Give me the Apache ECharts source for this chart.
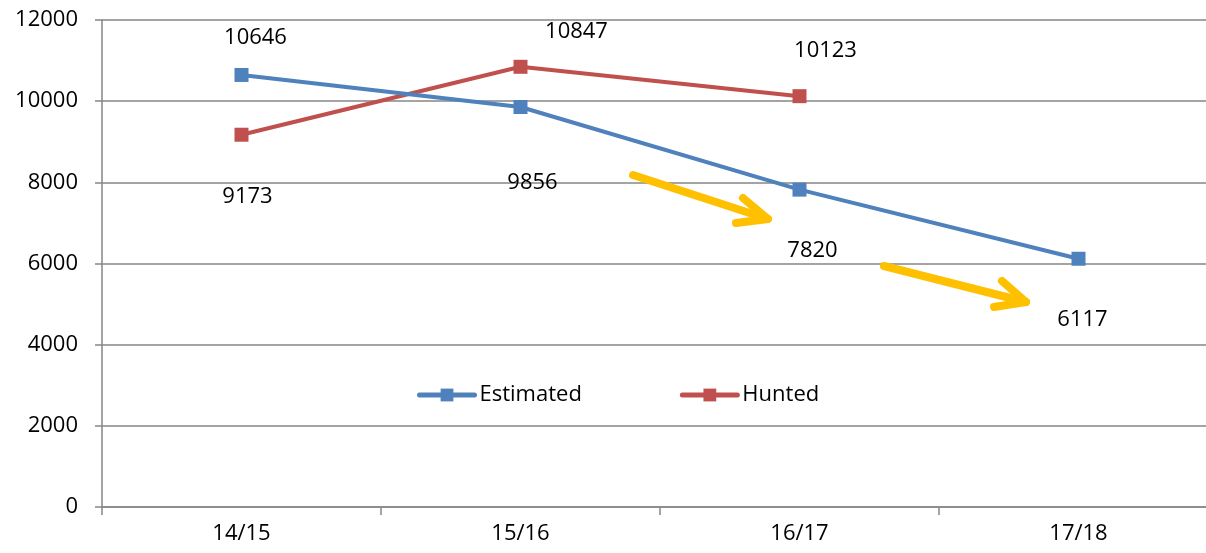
<!DOCTYPE html>
<html>
<head>
<meta charset="utf-8">
<script src="https://cdn.jsdelivr.net/npm/echarts@6/dist/echarts.min.js"></script>
<style>
    html, body { margin: 0; padding: 0; background: #fff; overflow: hidden; }
    #chart { width: 1218px; height: 553px; }
</style>
</head>
<body>
<div id="chart"></div>
<script>
const seasons = ['14/15', '15/16', '16/17', '17/18']
const estimated = [10646, 9856, 7820, 6117]
const hunted = [9173, 10847, 10123]

// label offsets (px) from each point, as placed in the original
const estimatedOffsets = [[14, -37], [12, 76], [13, 61], [4, 61]]
const huntedOffsets = [[6, 62], [56, -35], [26, -45]]

const FONT = '"Open Sans", "Liberation Sans", sans-serif'
const GRID_COLOR = '#868686'
const BLUE = '#4F81BD'
const RED = '#C0504D'
const ARROW = '#FFC000'

function withLabels (values, offsets) {
    return values.map((v, i) => ({
        value: v,
        label: { offset: offsets[i] }
    }))
}

function arrow (tail, tip, headA, headB) {
    const style = { stroke: ARROW, lineWidth: 8, lineCap: 'round', lineJoin: 'round', fill: null }
    return [
        { type: 'polyline', shape: { points: [tail, tip] }, style, z: 100 },
        { type: 'polyline', shape: { points: [headA, tip, headB] }, style, z: 100 }
    ]
}

const myChart = echarts.init(document.getElementById('chart'))

const option = {
    animation: false,
    textStyle: { fontFamily: FONT },
    // the original is cropped on the right, so the plot runs past the page edge
    grid: { left: 102, right: 0, top: 20, bottom: 46 },
    legend: {
        left: 412,
        top: 379,
        itemWidth: 55,
        itemHeight: 16,
        itemGap: 98,
        lineStyle: { width: 5, cap: 'round' },
        textStyle: { fontSize: 22, color: '#000', fontFamily: FONT },
        data: ['Estimated', 'Hunted']
    },
    xAxis: {
        type: 'category',
        data: seasons,
        boundaryGap: true,
        axisLine: { lineStyle: { color: GRID_COLOR, width: 1.5 } },
        axisTick: { show: true, length: 8, lineStyle: { color: GRID_COLOR, width: 1.5 } },
        axisLabel: { color: '#000', fontSize: 22, margin: 16 }
    },
    yAxis: {
        type: 'value',
        min: 0,
        max: 12000,
        interval: 2000,
        axisLine: { show: true, lineStyle: { color: GRID_COLOR, width: 1.5 } },
        axisTick: { show: true, length: 7, lineStyle: { color: GRID_COLOR, width: 1.5 } },
        axisLabel: { color: '#000', fontSize: 22, margin: 24, formatter: (v) => String(v) },
        splitLine: { lineStyle: { color: GRID_COLOR, width: 1.5 } }
    },
    series: [
        {
            name: 'Estimated',
            type: 'line',
            data: withLabels(estimated, estimatedOffsets),
            color: BLUE,
            symbol: 'rect',
            symbolSize: 14,
            lineStyle: { width: 4, color: BLUE },
            itemStyle: { color: BLUE },
            label: { show: true, position: 'inside', color: '#000', fontSize: 22 },
            z: 3
        },
        {
            name: 'Hunted',
            type: 'line',
            data: withLabels(hunted, huntedOffsets),
            color: RED,
            symbol: 'rect',
            symbolSize: 14,
            lineStyle: { width: 4, color: RED },
            itemStyle: { color: RED },
            label: { show: true, position: 'inside', color: '#000', fontSize: 22 },
            z: 2
        }
    ],
    graphic: [
        ...arrow([633, 175], [768, 219], [743, 198], [736, 223]),
        ...arrow([884, 266], [1026, 302], [1002, 281], [994, 307])
    ]
}

myChart.setOption(option)
</script>
</body>
</html>
